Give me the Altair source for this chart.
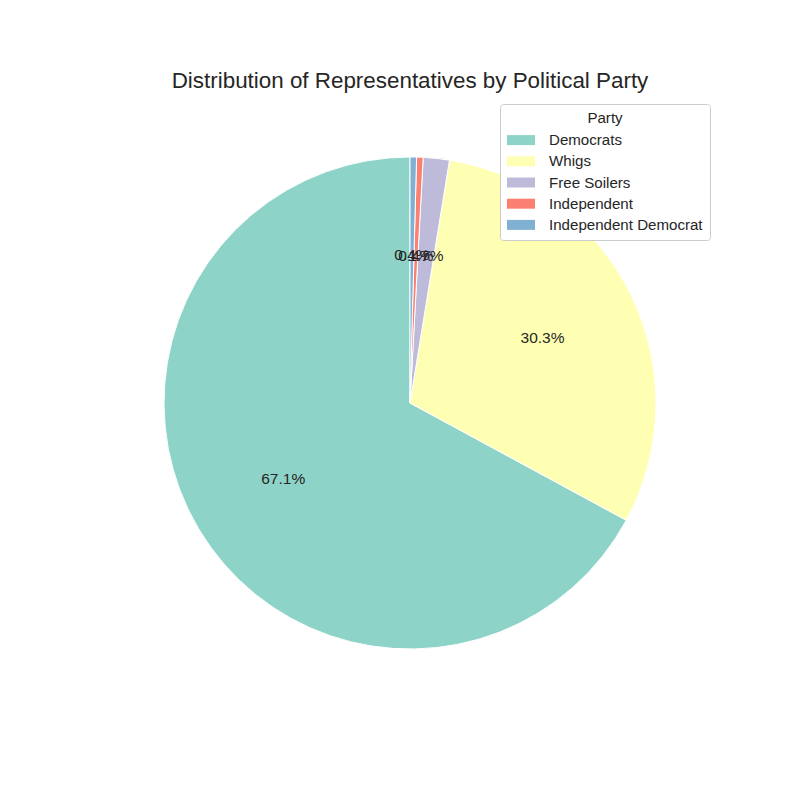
import altair as alt
import pandas as pd

parties = ["Democrats", "Whigs", "Free Soilers", "Independent", "Independent Democrat"]
counts = [157, 71, 4, 1, 1]
colors = ["#8dd3c7", "#ffffb3", "#bebada", "#fb8072", "#80b1d3"]
# clockwise drawing order (matplotlib draws counter-clockwise from the top)
draw_order = [5, 4, 3, 2, 1]

total = sum(counts)
df = pd.DataFrame({
    "Party": parties,
    "count": counts,
    "ord": draw_order,
    "pct": [f"{c / total * 100:.1f}%" for c in counts],
})

CX, CY, R = 402, 395, 246
FONT = "Liberation Sans"

base = alt.Chart(df).encode(
    theta=alt.Theta("count:Q", stack=True),
    order=alt.Order("ord:Q"),
)

pie = base.mark_arc(stroke="white", strokeWidth=1).encode(
    x=alt.value(CX),
    y=alt.value(CY),
    radius=alt.value(R),
    color=alt.Color(
        "Party:N",
        scale=alt.Scale(domain=parties, range=colors),
        legend=alt.Legend(
            title="Party",
            orient="none",
            legendX=492,
            legendY=96,
            symbolType="M-1.4,-0.5H1.4V0.5H-1.4Z",
            symbolSize=400,
            symbolStrokeWidth=0,
            symbolOffset=4,
            labelOffset=18,
            rowPadding=2.2,
            padding=7,
            fillColor="white",
            strokeColor="#cccccc",
            cornerRadius=3,
            titleAnchor="middle",
            titleAlign="center",
            titlePadding=4,
            titleFontSize=15.1,
            titleFontWeight="normal",
            titleFont=FONT,
            titleColor="#262626",
            labelFontSize=15.1,
            labelFont=FONT,
            labelColor="#262626",
        ),
    ),
)

labels = base.mark_text(fontSize=15.5, font=FONT, color="#262626").encode(
    x=alt.value(CX),
    y=alt.value(CY),
    radius=alt.value(R * 0.6),
    text="pct:N",
)

title = alt.Chart(pd.DataFrame({"t": ["Distribution of Representatives by Political Party"]})).mark_text(
    fontSize=22.4, font=FONT, color="#262626", baseline="middle", align="center"
).encode(x=alt.value(402), y=alt.value(73), text="t:N")

chart = alt.layer(pie, labels, title).properties(
    width=784, height=784, autosize=alt.AutoSizeParams(type="none"), padding=0,
    background="white",
).configure_view(stroke=None)

chart.save("out.html", embed_options={"renderer": "svg", "actions": False})
